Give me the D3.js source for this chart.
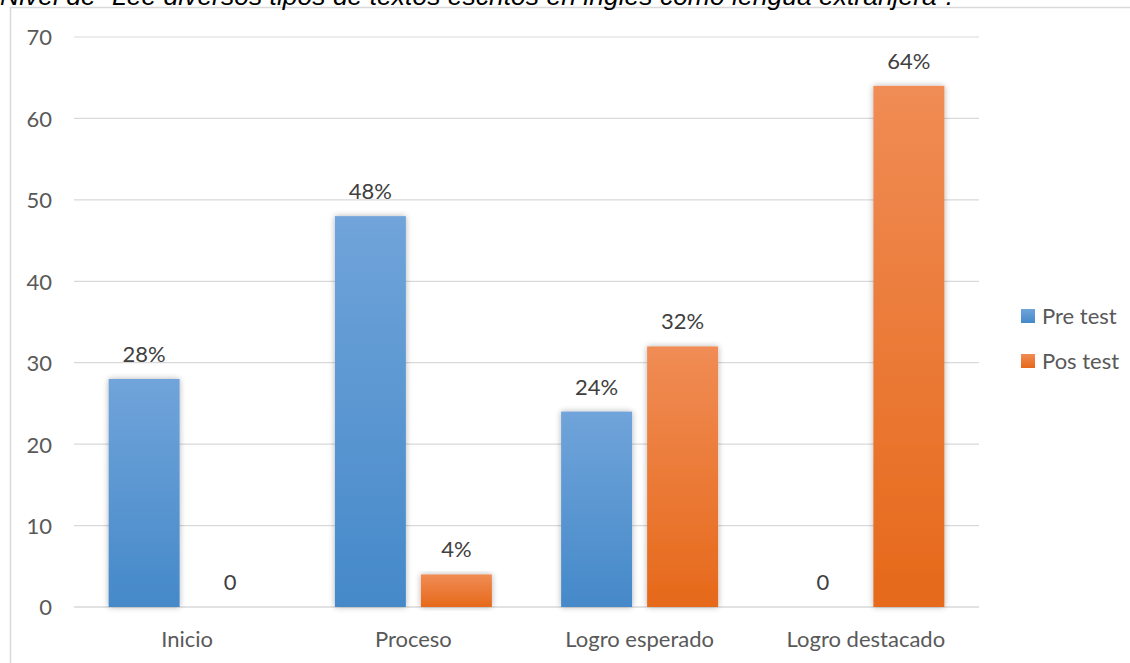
<!DOCTYPE html>
<html><head><meta charset="utf-8">
<script src="https://cdn.jsdelivr.net/npm/d3@7"></script>
<style>body{margin:0;background:#fff;}svg{display:block;}</style>
</head><body>
<svg id="c" width="1130" height="663"></svg>
<script>
const categories = ["Inicio", "Proceso", "Logro esperado", "Logro destacado"];
const seriesNames = ["Pre test", "Pos test"];
const preTest = [28, 48, 24, 0];
const posTest = [0, 4, 32, 64];
const preLabels = ["28%", "48%", "24%", "0"];
const posLabels = ["0", "4%", "32%", "64%"];
const yTicks = [0, 10, 20, 30, 40, 50, 60, 70];
const title = "Nivel de \u201cLee diversos tipos de textos escritos en inglés como lengua extranjera\u201d.";

const svg = d3.select("#c");
const font = "Lato, 'Open Sans', sans-serif";
const defs = svg.append("defs");
function grad(id, top, bottom){
  const g = defs.append("linearGradient").attr("id", id).attr("x1",0).attr("y1",0).attr("x2",0).attr("y2",1);
  g.append("stop").attr("offset","0%").attr("stop-color",top);
  g.append("stop").attr("offset","100%").attr("stop-color",bottom);
}
grad("gBlue", "#70a4da", "#4589c9");
grad("gOrange", "#f08c55", "#e6691a");
const f = defs.append("filter").attr("id","sh").attr("x","-20%").attr("y","-10%").attr("width","140%").attr("height","120%");
f.append("feGaussianBlur").attr("in","SourceAlpha").attr("stdDeviation",3).attr("result","b");
f.append("feComponentTransfer").attr("in","b").attr("result","b2").append("feFuncA").attr("type","linear").attr("slope",0.3);
const m = f.append("feMerge"); m.append("feMergeNode").attr("in","b2"); m.append("feMergeNode").attr("in","SourceGraphic");

// chart border
svg.append("rect").attr("x",10.5).attr("y",7.5).attr("width",1130).attr("height",700)
  .attr("fill","#fff").attr("stroke","#d9d9d9").attr("stroke-width",1.5);

// title (cut off at top, as in the source)
svg.append("text").attr("x", 0).attr("y", 4.5).attr("font-family","'Liberation Sans', Arial, sans-serif")
  .attr("font-style","italic").attr("font-size",26.5).attr("fill","#000").text(title);

const x0 = 74, x1 = 979, yTop = 37, yBot = 607;
const x = d3.scaleBand().domain(categories).range([x0, x1]);
const y = d3.scaleLinear().domain([0, 70]).range([yBot, yTop]);
const barW = 71, inner = 15;
const xs = d3.scaleOrdinal().domain(seriesNames).range([-(inner/2 + barW), inner/2]);

// gridlines
svg.append("g").selectAll("line").data(yTicks).join("line")
  .attr("x1", x0).attr("x2", x1).attr("y1", d => y(d)).attr("y2", d => y(d))
  .attr("stroke", "#d9d9d9").attr("stroke-width", d => d === 0 ? 1.5 : 1.2);

// y axis labels
const yAxis = d3.axisLeft(y).tickValues(yTicks).tickSize(0).tickPadding(0);
const ya = svg.append("g").attr("transform", `translate(52,0)`).call(yAxis);
ya.select(".domain").remove();
ya.selectAll("text").attr("font-family", font).attr("font-size", 22).attr("fill", "#595959").attr("dy","0.36em");

// x axis labels
const xAxis = d3.axisBottom(x).tickSize(0).tickPadding(0);
const xa = svg.append("g").attr("transform", `translate(0,${yBot})`).call(xAxis);
xa.select(".domain").remove();
xa.selectAll("text").attr("font-family", font).attr("font-size", 22).attr("fill", "#595959").attr("y", 40).attr("dy", 0);

const series = [
  {name: seriesNames[0], vals: preTest, labels: preLabels, fill: "url(#gBlue)"},
  {name: seriesNames[1], vals: posTest, labels: posLabels, fill: "url(#gOrange)"}
];
series.forEach(s => {
  const g = svg.append("g");
  g.selectAll("rect").data(categories.map((c, i) => ({c, v: s.vals[i]})).filter(d => d.v > 0)).join("rect")
    .attr("x", d => x(d.c) + x.bandwidth()/2 + xs(s.name))
    .attr("y", d => y(d.v)).attr("width", barW).attr("height", d => y(0) - y(d.v))
    .attr("fill", s.fill).attr("filter", "url(#sh)");
  g.selectAll("text").data(categories.map((c, i) => ({c, v: s.vals[i], l: s.labels[i]}))).join("text")
    .attr("x", d => x(d.c) + x.bandwidth()/2 + xs(s.name) + barW/2)
    .attr("y", d => y(d.v) - 17).attr("text-anchor", "middle")
    .attr("font-family", font).attr("font-size", 22).attr("fill", "#404040").text(d => d.l);
});

// legend
const legendBase = [324, 369];
const lg = svg.append("g");
series.forEach((s, i) => {
  lg.append("rect").attr("x", 1021).attr("y", legendBase[i] - 15).attr("width", 14).attr("height", 14).attr("fill", s.fill);
  lg.append("text").attr("x", 1042).attr("y", legendBase[i]).attr("font-family", font)
    .attr("font-size", 22).attr("fill", "#595959").text(s.name);
});
</script>
</body></html>
